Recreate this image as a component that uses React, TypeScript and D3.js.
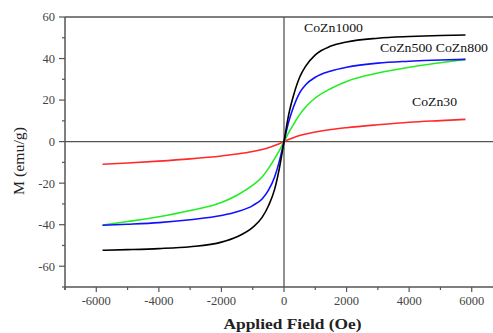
import * as d3 from "d3";

// Applied field (Oe) sample positions
const FIELD = [-5800, -5000, -4000, -3000, -2000, -1500, -1000, -700, -500, -300, -150, 0,
  150, 300, 500, 700, 1000, 1500, 2000, 3000, 4000, 5000, 5800];

// Magnetization (emu/g)
const COZN1000 = [-52.3, -52, -51.5, -50.6, -48.4, -45.8, -41.3, -36.5, -31, -23, -13, 0,
  13, 22, 31, 36.5, 41.8, 46, 48, 49.8, 50.6, 51.1, 51.3];
const COZN500 = [-40.3, -39.8, -39, -37.6, -35.6, -33.8, -30.8, -27.6, -23.5, -17, -9.5, 0,
  9.5, 16.5, 23.5, 27.5, 31, 34, 35.8, 37.8, 38.7, 39.3, 39.6];
const COZN800 = [-40.2, -38.5, -36.2, -33.2, -29.3, -25.8, -21, -17, -13, -8.2, -4.3, 0,
  4.3, 8.2, 13, 16.8, 21, 25.6, 29, 33, 35.8, 38, 39.6];
const COZN30 = [-10.9, -10.3, -9.4, -8.3, -6.9, -6, -4.8, -3.8, -3, -1.9, -1, 0,
  1, 1.9, 2.9, 3.7, 4.6, 5.8, 6.7, 8.1, 9.3, 10.1, 10.7];

const X_TICKS = [-6000, -4000, -2000, 0, 2000, 4000, 6000];
const X_MINOR = [-7000, -5000, -3000, -1000, 1000, 3000, 5000];
const Y_TICKS = [-60, -40, -20, 0, 20, 40, 60];
const Y_MINOR = [-70, -50, -30, -10, 10, 30, 50];

const SERIES = [
  { name: "CoZn30", values: COZN30, color: "#ff2a2a" },
  { name: "CoZn800", values: COZN800, color: "#22ee22" },
  { name: "CoZn500", values: COZN500, color: "#1010ff" },
  { name: "CoZn1000", values: COZN1000, color: "#000000" },
];

const W = 493;
const H = 333;
const FONT = "Liberation Serif";
const AXIS = "#555";

export default function App() {
  const x = d3.scaleLinear().domain([-7000, 7000]).range([65, 503]);
  const y = d3.scaleLinear().domain([-70, 60]).range([287, 17]);

  const line = d3
    .line<[number, number]>()
    .x((d) => x(d[0]))
    .y((d) => y(d[1]))
    .curve(d3.curveMonotoneX);

  const left = x(-7000);
  const bottom = y(-70);
  const top = y(60);

  return (
    <svg
      width={W}
      height={H}
      style={{ position: "fixed", left: 0, top: 0, background: "#fff", fontFamily: FONT }}
    >
      {/* zero lines */}
      <line x1={left} x2={W} y1={y(0)} y2={y(0)} stroke={AXIS} strokeWidth={1.3} />
      <line x1={x(0)} x2={x(0)} y1={top} y2={bottom} stroke={AXIS} strokeWidth={1.3} />

      {/* frame */}
      <line x1={left} x2={W} y1={top} y2={top} stroke={AXIS} strokeWidth={1.5} />
      <line x1={left} x2={W} y1={bottom} y2={bottom} stroke={AXIS} strokeWidth={1.5} />
      <line x1={left} x2={left} y1={top} y2={bottom + 3} stroke={AXIS} strokeWidth={1.5} />

      {/* y ticks */}
      {Y_TICKS.map((t) => (
        <g key={`y${t}`}>
          <line x1={left - 6} x2={left} y1={y(t)} y2={y(t)} stroke={AXIS} strokeWidth={1.2} />
          <text x={left - 10} y={y(t)} dy="0.35em" textAnchor="end" fontSize={12.5} fill="#444">
            {t}
          </text>
        </g>
      ))}
      {Y_MINOR.map((t) => (
        <line key={`ym${t}`} x1={left - 3} x2={left} y1={y(t)} y2={y(t)} stroke={AXIS} strokeWidth={1.2} />
      ))}

      {/* x ticks */}
      {X_TICKS.map((t) => (
        <g key={`x${t}`}>
          <line x1={x(t)} x2={x(t)} y1={bottom} y2={bottom + 5} stroke={AXIS} strokeWidth={1.2} />
          <text x={x(t)} y={bottom + 17.5} textAnchor="middle" fontSize={12.5} fill="#444">
            {t}
          </text>
        </g>
      ))}
      {X_MINOR.map((t) => (
        <line key={`xm${t}`} x1={x(t)} x2={x(t)} y1={bottom} y2={bottom + 3} stroke={AXIS} strokeWidth={1.2} />
      ))}

      {/* curves */}
      {SERIES.map((s) => (
        <path
          key={s.name}
          d={line(FIELD.map((f, i) => [f, s.values[i]] as [number, number])) ?? ""}
          fill="none"
          stroke={s.color}
          strokeWidth={1.6}
        />
      ))}

      {/* series labels */}
      <text x={304} y={32} fontSize={12.5} fill="#111" textLength={59} lengthAdjust="spacingAndGlyphs">
        CoZn1000
      </text>
      <text x={380} y={52} fontSize={12.5} fill="#111" textLength={108} lengthAdjust="spacingAndGlyphs">
        CoZn500 CoZn800
      </text>
      <text x={412} y={106} fontSize={12.5} fill="#111" textLength={45} lengthAdjust="spacingAndGlyphs">
        CoZn30
      </text>

      {/* axis titles */}
      <text
        x={292.5}
        y={329}
        textAnchor="middle"
        fontSize={15.5}
        fontWeight="bold"
        fill="#222"
        textLength={138}
        lengthAdjust="spacingAndGlyphs"
      >
        Applied Field (Oe)
      </text>
      <text
        transform="translate(24,161) rotate(-90)"
        textAnchor="middle"
        fontSize={15}
        fill="#222"
        textLength={68}
        lengthAdjust="spacingAndGlyphs"
      >
        M (emu/g)
      </text>
    </svg>
  );
}
